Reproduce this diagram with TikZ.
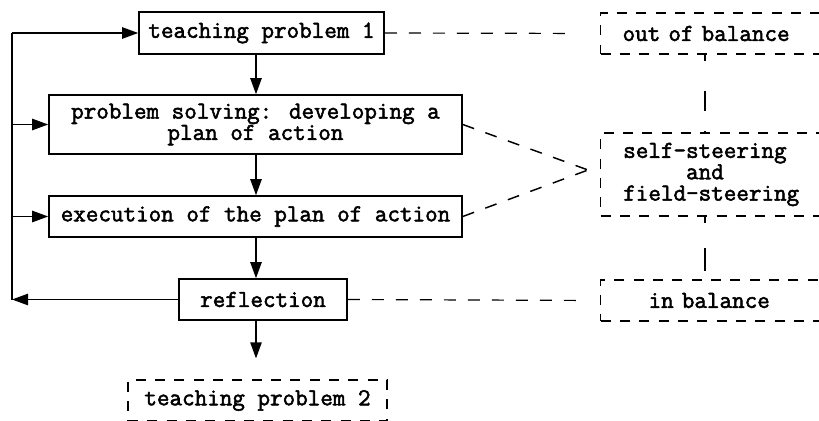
\documentclass[tikz,border=0pt]{standalone}
\usepackage{fontspec}
\newfontfamily\typewriter{Latin Modern Mono}[FakeBold=2.2]
\usetikzlibrary{arrows.meta}
\begin{document}
\begin{tikzpicture}[x=0.75pt,y=-0.75pt,
  txt/.style={font=\fontsize{18.3}{16}\selectfont\typewriter\bfseries},
  box/.style={txt, draw, line width=1.2pt, inner sep=0pt},
  dbox/.style={txt, draw, line width=0.9pt, inner ysep=0pt, dash pattern=on 7.5pt off 7pt},
  arr/.style={line width=1.1pt, -{Triangle[length=12pt,width=8.5pt]}},
  dline/.style={line width=0.9pt, dash pattern=on 9pt off 9pt},
  vline/.style={line width=0.9pt}]
\clip (0,0) rectangle (819,421);
% main chain
\node[box, minimum width=183.75pt, minimum height=31.5pt] (tp1) at (261.5,33) {teaching problem 1};
\node[box, minimum width=309.75pt, minimum height=44.25pt, align=center] (ps) at (255.5,124.5) {problem solving: developing a\\plan of action};
\node[box, minimum width=309.75pt, minimum height=30.75pt] (ex) at (255.5,216.5) {execution of the plan of action};
\node[box, minimum width=126pt, minimum height=30.75pt] (refl) at (263,299.5) {reflection};
\node[dbox, minimum width=194.25pt, minimum height=30.75pt] (tp2) at (257.5,400.5) {teaching problem 2};
% states on the right
\node[dbox, anchor=west, text width=150pt, inner xsep=16.5pt, minimum height=30.75pt, align=left] (oob) at (600,33.5) {out of balance};
\node[dbox, anchor=west, text width=150pt, inner xsep=17pt, minimum height=62.25pt, align=left] (ss) at (600,174.5) {self-steering\\\hphantom{aaaaa}and\\field-steering};
\node[dbox, anchor=west, text width=110pt, inner xsep=36pt, minimum height=30.75pt, align=left] (ib) at (600,300.5) {in balance};
% vertical flow
\coordinate (col) at (256,0);
\draw[arr] (tp1.south -| col) -- (ps.north -| col);
\draw[arr] (ps.south -| col) -- (ex.north -| col);
\draw[arr] (ex.south -| col) -- (refl.north -| col);
\draw[arr, shorten >=15.75pt] (refl.south -| col) -- (tp2.north -| col);
% feedback loop
\coordinate (lb) at (12,299.5);
\coordinate (lt) at (12,33);
\draw[arr] (refl.west) -- (lb);
\draw[line width=1.1pt] (lb) -- (lt);
\draw[arr] (lt) -- (tp1.west);
\draw[arr] (ps.west -| lb) -- (ps.west);
\draw[arr] (ex.west -| lb) -- (ex.west);
% dashed relations
\coordinate (conv) at (588,170);
\draw[dline, shorten >=18pt] (tp1.east) -- (oob.west);
\draw[dline, shorten >=12pt] (refl.east) -- (ib.west);
\draw[dline, line width=1.1pt] (ps.east) -- (conv);
\draw[dline, line width=1.1pt] (ex.east) -- (conv);
\draw[vline, dash pattern=on 4.5pt off 23pt on 15pt off 15pt] ([xshift=78.75pt]oob.south west) -- ([xshift=78.75pt]ss.north west);
\draw[vline, dash pattern=on 4.5pt off 19pt on 17pt off 30pt] ([xshift=78.75pt]ss.south west) -- ([xshift=78.75pt]ib.north west);
\end{tikzpicture}
\end{document}
